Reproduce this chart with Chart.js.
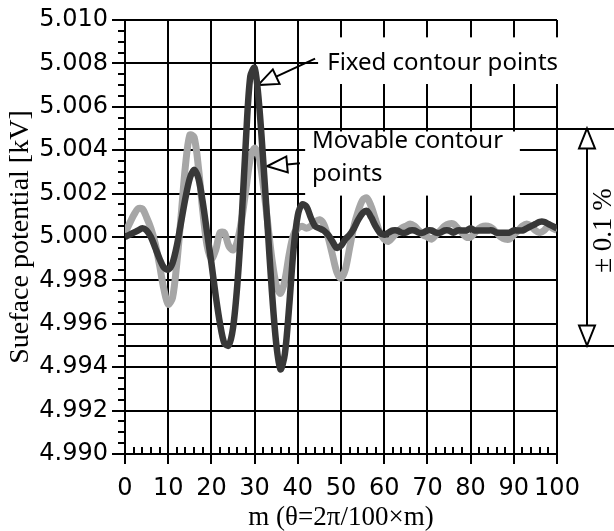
<!DOCTYPE html>
<html>
<head>
<meta charset="utf-8">
<script src="https://cdn.jsdelivr.net/npm/chart.js@4.4.0/dist/chart.umd.min.js"></script>
<style>
  html, body { margin: 0; padding: 0; background: #fff; }
  #wrap { width: 614px; height: 531px; }
</style>
</head>
<body>
<div id="wrap"><canvas id="chart"></canvas></div>
<script>
// m index (theta = 2*pi/100 * m)
const mValues = [
  0, 1, 2, 3, 4, 5, 6, 7, 8, 9, 10, 11, 12, 13, 14, 15, 16, 17, 18, 19,
  20, 21, 22, 23, 24, 25, 26, 27, 28, 29, 30, 31, 32, 33, 34, 35, 36, 37, 38, 39,
  40, 41, 42, 43, 44, 45, 46, 47, 48, 49, 50, 51, 52, 53, 54, 55, 56, 57, 58, 59,
  60, 61, 62, 63, 64, 65, 66, 67, 68, 69, 70, 71, 72, 73, 74, 75, 76, 77, 78, 79,
  80, 81, 82, 83, 84, 85, 86, 87, 88, 89, 90, 91, 92, 93, 94, 95, 96, 97, 98, 99, 100
];

// surface potential [kV], fixed contour points (dark line)
const fixedPoints = [
  5.0000, 5.0001, 5.0002, 5.0003, 5.0004, 5.0003, 5.0000, 4.9995, 4.9990, 4.9986,
  4.9985, 4.9988, 4.9996, 5.0007, 5.0018, 5.0027, 5.0031, 5.0027, 5.0016, 5.0002,
  4.9988, 4.9973, 4.9960, 4.9951, 4.9950, 4.9958, 4.9978, 5.0008, 5.0045, 5.0074,
  5.0078, 5.0062, 5.0035, 5.0005, 4.9975, 4.9951, 4.9939, 4.9946, 4.9968, 4.9994,
  5.0010, 5.0015, 5.0014, 5.0009, 5.0005, 5.0004, 5.0003, 5.0001, 4.9998, 4.9995,
  4.9996, 4.9999, 5.0001, 5.0004, 5.0008, 5.0011, 5.0012, 5.0009, 5.0005, 5.0002,
  5.0001, 5.0002, 5.0003, 5.0003, 5.0002, 5.0002, 5.0003, 5.0003, 5.0002, 5.0002,
  5.0003, 5.0003, 5.0002, 5.0002, 5.0003, 5.0003, 5.0002, 5.0003, 5.0003, 5.0003,
  5.0004, 5.0003, 5.0003, 5.0003, 5.0003, 5.0003, 5.0002, 5.0002, 5.0002, 5.0002,
  5.0003, 5.0003, 5.0003, 5.0004, 5.0005, 5.0006, 5.0007, 5.0007, 5.0006, 5.0005,
  5.0004
];

// surface potential [kV], movable contour points (grey line)
const movablePoints = [
  5.0002, 5.0006, 5.0010, 5.0013, 5.0013, 5.0009, 5.0004, 4.9997, 4.9987, 4.9976,
  4.9969, 4.9972, 4.9988, 5.0010, 5.0033, 5.0047, 5.0046, 5.0032, 5.0012, 4.9996,
  4.9990, 4.9994, 5.0002, 5.0002, 4.9996, 4.9994, 4.9998, 5.0008, 5.0022, 5.0036,
  5.0041, 5.0037, 5.0024, 5.0007, 4.9990, 4.9978, 4.9974, 4.9980, 4.9992, 5.0001,
  5.0004, 5.0005, 5.0004, 5.0005, 5.0007, 5.0008, 5.0006, 5.0000, 4.9992, 4.9984,
  4.9981, 4.9985, 4.9995, 5.0005, 5.0012, 5.0017, 5.0018, 5.0014, 5.0008, 5.0002,
  4.9999, 4.9998, 5.0000, 5.0002, 5.0004, 5.0005, 5.0006, 5.0005, 5.0003, 5.0001,
  5.0000, 4.9999, 5.0001, 5.0003, 5.0005, 5.0006, 5.0006, 5.0004, 5.0002, 5.0000,
  5.0000, 5.0002, 5.0004, 5.0005, 5.0005, 5.0004, 5.0002, 5.0000, 4.9999, 4.9999,
  5.0001, 5.0003, 5.0005, 5.0006, 5.0005, 5.0003, 5.0002, 5.0003, 5.0005, 5.0004,
  5.0003
];

const toleranceBand = [5.005, 4.995];   // +-0.1 % of 5 kV

const sans = "'DejaVu Sans', sans-serif";
const serif = "'Liberation Serif', serif";

// open triangle arrow head, tip at (tx,ty), pointing along (dx,dy)
function arrowHead(ctx, tx, ty, dx, dy, len, half) {
  const d = Math.hypot(dx, dy);
  const ux = dx / d, uy = dy / d;
  const bx = tx - ux * len, by = ty - uy * len;
  ctx.beginPath();
  ctx.moveTo(tx, ty);
  ctx.lineTo(bx - uy * half, by + ux * half);
  ctx.lineTo(bx + uy * half, by - ux * half);
  ctx.closePath();
  ctx.fillStyle = '#fff';
  ctx.fill();
  ctx.stroke();
  return [bx, by];
}

function arrow(ctx, x0, y0, x1, y1) {
  const [bx, by] = arrowHead(ctx, x1, y1, x1 - x0, y1 - y0, 20, 8);
  ctx.beginPath();
  ctx.moveTo(x0, y0);
  ctx.lineTo(bx, by);
  ctx.stroke();
}

const decorations = {
  id: 'decorations',
  beforeDatasetsDraw(chart) {
    const {ctx, chartArea: a, scales: {x, y}} = chart;
    ctx.save();
    ctx.strokeStyle = '#000';
    ctx.lineWidth = 2;

    // y tick marks (outside), long on labelled values
    y.ticks.forEach(t => {
      const k = Math.round(t.value * 10000);
      const py = Math.round(y.getPixelForValue(t.value));
      const len = k % 20 === 0 ? 13 : 7;
      ctx.beginPath();
      ctx.moveTo(a.left - len, py);
      ctx.lineTo(a.left, py);
      ctx.stroke();
    });
    // x tick marks: majors hang below, minors point inside
    x.ticks.forEach(t => {
      const px = Math.round(x.getPixelForValue(t.value));
      ctx.beginPath();
      if (t.value % 10 === 0) {
        ctx.moveTo(px, a.bottom);
        ctx.lineTo(px, a.bottom + 10);
      } else {
        ctx.moveTo(px, a.bottom);
        ctx.lineTo(px, a.bottom - 7);
      }
      ctx.stroke();
    });

    // tolerance lines run on to the page edge
    toleranceBand.forEach(v => {
      const py = Math.round(y.getPixelForValue(v));
      ctx.beginPath();
      ctx.moveTo(a.right, py);
      ctx.lineTo(chart.width, py);
      ctx.stroke();
    });

    // white label boxes hide the grid behind the text
    ctx.fillStyle = '#fff';
    const fx0 = x.getPixelForValue(44.7), fy0 = y.getPixelForValue(5.0092), fy1 = y.getPixelForValue(5.00705);
    ctx.fillRect(fx0, fy0, chart.width - fx0 - 50, fy1 - fy0);
    const mx0 = x.getPixelForValue(41.7), mx1 = x.getPixelForValue(91.4);
    const my0 = y.getPixelForValue(5.005) + 3, my1 = y.getPixelForValue(5.002) + 2;
    ctx.fillRect(mx0, my0, mx1 - mx0, my1 - my0);

    ctx.fillStyle = '#000';
    ctx.font = "24px 'Noto Sans', sans-serif";
    ctx.textAlign = 'left';
    ctx.textBaseline = 'middle';
    ctx.fillText('Fixed contour points', x.getPixelForValue(46.8), y.getPixelForValue(5.0080));
    ctx.fillText('Movable contour', x.getPixelForValue(43.3), y.getPixelForValue(5.0044));
    ctx.fillText('points', x.getPixelForValue(43.3), y.getPixelForValue(5.0029));

    arrow(ctx, x.getPixelForValue(44.0), y.getPixelForValue(5.00822),
               x.getPixelForValue(30.8), y.getPixelForValue(5.0070));
    arrow(ctx, x.getPixelForValue(40.5), y.getPixelForValue(5.0034),
               x.getPixelForValue(32.9), y.getPixelForValue(5.00326));

    // +-0.1 % dimension arrow
    const ay0 = y.getPixelForValue(toleranceBand[0]), ay1 = y.getPixelForValue(toleranceBand[1]);
    const ax = 587;
    const [, topBase] = arrowHead(ctx, ax, ay0, 0, -1, 20, 8);
    const [, botBase] = arrowHead(ctx, ax, ay1, 0, 1, 20, 8);
    ctx.beginPath();
    ctx.moveTo(ax, topBase);
    ctx.lineTo(ax, botBase);
    ctx.stroke();

    ctx.translate(604, y.getPixelForValue(5.0003));
    ctx.rotate(-Math.PI / 2);
    ctx.fillStyle = '#000';
    ctx.font = '27px ' + serif;
    ctx.textAlign = 'center';
    ctx.fillText('\u00b1 0.1 %', 0, 0);
    ctx.restore();
  }
};

const ctx = document.getElementById('chart').getContext('2d');
new Chart(ctx, {
  type: 'line',
  data: {
    datasets: [{
      label: 'Fixed contour points',
      data: mValues.map((m, i) => ({x: m, y: fixedPoints[i]})),
      borderColor: '#383838',
      borderWidth: 6.5,
      pointRadius: 0,
      tension: 0.3,
      fill: false
    }, {
      label: 'Movable contour points',
      data: mValues.map((m, i) => ({x: m, y: movablePoints[i]})),
      borderColor: '#a6a6a6',
      borderWidth: 7,
      pointRadius: 0,
      tension: 0.3,
      fill: false
    }]
  },
  options: {
    responsive: true,
    maintainAspectRatio: false,
    animation: false,
    devicePixelRatio: 1,
    layout: { padding: { top: 20, right: 57, left: 0, bottom: 0 } },
    plugins: { legend: { display: false }, tooltip: { enabled: false } },
    scales: {
      x: {
        type: 'linear',
        min: 0,
        max: 100,
        afterFit: s => { s.height = 77; s.paddingLeft = 0; s.paddingRight = 0; },
        ticks: {
          stepSize: 2,
          autoSkip: false,
          maxRotation: 0,
          padding: 20,
          color: '#000',
          font: { family: sans, size: 24 },
          callback: v => (v % 10 === 0 ? String(v) : '')
        },
        grid: {
          drawTicks: false,
          lineWidth: 2,
          color: c => (c.tick && c.tick.value % 10 === 0 ? '#000' : 'rgba(0,0,0,0)')
        },
        border: { display: true, color: '#000', width: 2 },
        title: {
          display: true,
          text: 'm (\u03b8=2\u03c0/100\u00d7m)',
          color: '#000',
          font: { family: serif, size: 27, lineHeight: 1.1 },
          padding: { top: 0, bottom: -2 }
        }
      },
      y: {
        min: 4.99,
        max: 5.01,
        afterFit: s => { s.width = 125; s.paddingTop = 0; s.paddingBottom = 0; },
        ticks: {
          stepSize: 0.0005,
          autoSkip: false,
          padding: 17,
          color: '#000',
          font: { family: sans, size: 24 },
          callback: v => (Math.round(v * 10000) % 20 === 0 ? v.toFixed(3) : '')
        },
        grid: {
          drawTicks: false,
          lineWidth: 2,
          color: c => {
            if (!c.tick) return 'rgba(0,0,0,0)';
            const k = Math.round(c.tick.value * 10000);
            return (k % 20 === 0 || k === 50050 || k === 49950) ? '#000' : 'rgba(0,0,0,0)';
          }
        },
        border: { display: true, color: '#000', width: 2 },
        title: {
          display: true,
          text: 'Sueface potential [kV]',
          color: '#000',
          font: { family: serif, size: 28, lineHeight: 1.1 },
          padding: { top: 5, bottom: 0 }
        }
      }
    }
  },
  plugins: [decorations]
});
</script>
</body>
</html>
